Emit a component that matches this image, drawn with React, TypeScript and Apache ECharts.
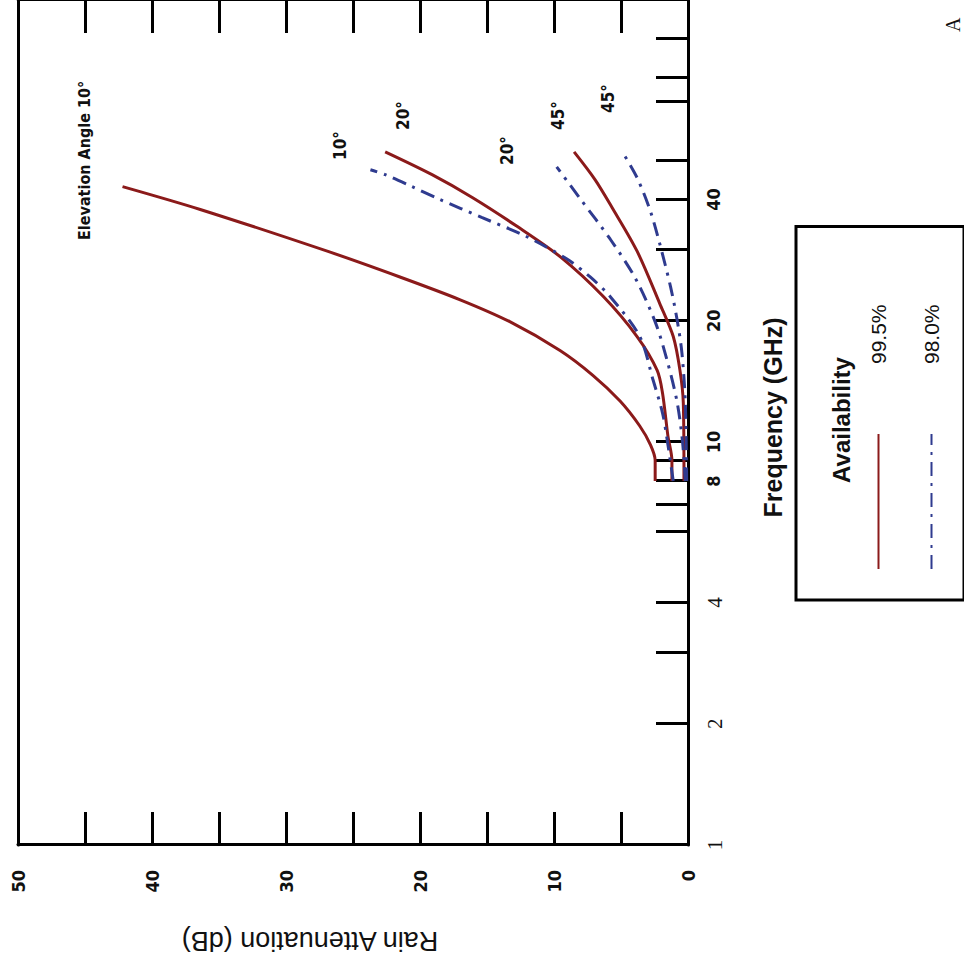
import React, { useEffect, useRef } from "react";
import * as echarts from "echarts";

// Frequency axis (GHz, log) ticks and labels
const freqTickValues = [1, 2, 3, 4, 6, 7, 8, 9, 10, 20, 30, 40, 50, 70, 80, 100];
const freqLabelValues = [1, 2, 4, 8, 10, 20, 40];
// Attenuation axis (dB)
const attenTickStep = 5;
const attenMin = 0;
const attenMax = 50;

// 99.5 % availability curves (frequency GHz, attenuation dB)
const freq995El10 = [8, 9, 9.84, 10.96, 12.64, 14.64, 16.87, 19.89, 22.54, 25.68, 29.59, 37.77, 43.04];
const atten995El10 = [2.45, 2.45, 2.8, 3.6, 5.07, 7.1, 9.55, 13.3, 17.0, 21.5, 26.7, 36.4, 42.2];
const freq995El20 = [8, 9, 10.36, 13.22, 15.06, 18.27, 22.93, 28.76, 34.29, 40.44, 46.07, 52.48];
const atten995El20 = [1.2, 1.2, 1.5, 1.9, 2.3, 3.8, 6.3, 9.5, 12.76, 16.1, 19.1, 22.6];
const freq995El45 = [8, 12.5, 15.06, 18.27, 22.03, 29.76, 38.2, 44.8, 52.48];
const atten995El45 = [0.3, 0.35, 0.6, 1.1, 2.1, 3.8, 5.67, 6.94, 8.5];

// 98.0 % availability curves
const freq980El10 = [8, 10.36, 11.8, 14.23, 18.27, 22.93, 25.68, 28.44, 32.41, 36.09, 39.98, 43.04, 46.07, 47.39];
const atten980El10 = [1.1, 1.6, 1.9, 2.6, 3.6, 5.8, 7.3, 9.03, 12.1, 15.4, 18.5, 20.6, 22.6, 23.7];
const freq980El20 = [8, 9.95, 12.5, 15.67, 19.67, 25.39, 31.86, 39.98, 48.2];
const atten980El20 = [0.2, 0.4, 0.8, 1.5, 2.4, 3.9, 5.8, 8.0, 9.8];
const freq980El45 = [8, 12.5, 16.59, 20.0, 24.26, 30.97, 37.34, 45.29, 52.48];
const atten980El45 = [0.1, 0.2, 0.45, 0.8, 1.3, 2.1, 2.8, 3.8, 4.9];

const availabilityNames = ["99.5%", "98.0%"];
const curveLabelTexts = ["Elevation Angle 10\u00b0", "10\u00b0", "20\u00b0", "20\u00b0", "45\u00b0", "45\u00b0"];

const RED = "#8b1a1a";
const BLUE = "#2f3b8f";
const DASHDOT = [14, 7, 3, 7];
const NARROW = '"Liberation Sans Narrow", "DejaVu Sans Condensed", "Liberation Sans", Arial, sans-serif';
const SANS = '"Liberation Sans", Arial, sans-serif';
const SERIF = '"Liberation Serif", "DejaVu Serif", serif';

function pairs(f: number[], a: number[]) {
  return f.map((v, i) => [v, a[i]]);
}

export default function App() {
  const ref = useRef<HTMLDivElement>(null);

  useEffect(() => {
    if (!ref.current) return;
    const chart = echarts.init(ref.current, null, { renderer: "svg" });

    const curves = [
      { name: availabilityNames[0], data: pairs(freq995El10, atten995El10), color: RED, dash: "solid" as any },
      { name: availabilityNames[0], data: pairs(freq995El20, atten995El20), color: RED, dash: "solid" as any },
      { name: availabilityNames[0], data: pairs(freq995El45, atten995El45), color: RED, dash: "solid" as any },
      { name: availabilityNames[1], data: pairs(freq980El10, atten980El10), color: BLUE, dash: DASHDOT },
      { name: availabilityNames[1], data: pairs(freq980El20, atten980El20), color: BLUE, dash: DASHDOT },
      { name: availabilityNames[1], data: pairs(freq980El45, atten980El45), color: BLUE, dash: DASHDOT },
    ];

    const labelPos = [
      { x: 724, y: 84, size: 16 },
      { x: 804, y: 340, size: 17 },
      { x: 834, y: 403, size: 17 },
      { x: 799, y: 507, size: 17 },
      { x: 834, y: 558, size: 17 },
      { x: 851, y: 608, size: 17 },
    ];

    const option: any = {
      animation: false,
      backgroundColor: "#ffffff",
      grid: { left: 119, top: 18, width: 851, height: 670, containLabel: false },
      xAxis: [
        {
          type: "log",
          logBase: 10,
          min: 1,
          max: 125,
          position: "bottom",
          name: "Frequency (GHz)",
          nameLocation: "middle",
          nameGap: 72,
          nameTextStyle: { fontFamily: SANS, fontSize: 25, fontWeight: "bold", color: "#111", padding: [0, 0, 0, 10] },
          axisLine: { show: true, onZero: false, lineStyle: { color: "#000", width: 3 } },
          axisTick: { show: true, inside: true, length: 32, lineStyle: { color: "#000", width: 3 }, customValues: freqTickValues },
          minorTick: { show: false },
          splitLine: { show: false },
          axisLabel: {
            customValues: freqLabelValues,
            margin: 16,
            formatter: (v: number) => (v <= 4 ? `{s|${v}}` : `{b|${v}}`),
            rich: {
              s: { fontFamily: SERIF, fontSize: 21, color: "#111" },
              b: { fontFamily: NARROW, fontSize: 18, fontWeight: "bold", color: "#111" },
            },
          },
        },
        {
          type: "log",
          logBase: 10,
          min: 1,
          max: 125,
          position: "top",
          axisLine: { show: true, onZero: false, lineStyle: { color: "#000", width: 3 } },
          axisTick: { show: false },
          axisLabel: { show: false },
          splitLine: { show: false },
        },
      ],
      yAxis: [
        {
          type: "value",
          min: attenMin,
          max: attenMax,
          interval: attenTickStep,
          position: "left",
          name: "Rain Attenuation (dB)",
          nameLocation: "middle",
          nameGap: 82,
          nameTextStyle: { fontFamily: SANS, fontSize: 27, color: "#111", padding: [0, 0, 0, 86] },
          axisLine: { show: true, onZero: false, lineStyle: { color: "#000", width: 3 } },
          axisTick: { show: true, inside: true, length: 33, lineStyle: { color: "#000", width: 3 } },
          splitLine: { show: false },
          axisLabel: {
            margin: 25,
            fontFamily: NARROW,
            fontSize: 18,
            fontWeight: "bold",
            color: "#111",
            formatter: (v: number) => (v % 10 === 0 ? String(v) : ""),
          },
        },
        {
          type: "value",
          min: attenMin,
          max: attenMax,
          interval: attenTickStep,
          position: "right",
          axisLine: { show: true, onZero: false, lineStyle: { color: "#000", width: 3 } },
          axisTick: { show: true, inside: true, length: 33, lineStyle: { color: "#000", width: 3 } },
          axisLabel: { show: false },
          splitLine: { show: false },
        },
      ],
      legend: {
        data: availabilityNames,
        orient: "vertical",
        left: 364,
        top: 796,
        padding: [72, 78, 22, 30],
        itemWidth: 135,
        itemHeight: 20,
        itemGap: 32,
        borderColor: "#000",
        borderWidth: 3,
        selectedMode: false,
        itemStyle: { opacity: 0, borderWidth: 0 },
        textStyle: { fontFamily: SANS, fontSize: 21, color: "#111", padding: [0, 0, 0, 65] },
      },
      series: curves.map((c) => ({
        type: "line",
        name: c.name,
        data: c.data,
        xAxisIndex: 0,
        yAxisIndex: 0,
        showSymbol: false,
        symbol: "none",
        smooth: 0.3,
        silent: true,
        color: c.color,
        lineStyle: { color: c.color, width: 3, type: c.dash, cap: "butt" },
        itemStyle: { color: c.color },
      })),
      graphic: [
        {
          type: "text",
          x: 544,
          y: 841,
          style: { text: "Availability", fontFamily: SANS, fontSize: 24, fontWeight: "bold", fill: "#111", textAlign: "center", textVerticalAlign: "middle" },
        },
        ...curveLabelTexts.map((t, i) => ({
          type: "text",
          x: labelPos[i].x,
          y: labelPos[i].y,
          style: { text: t, fontFamily: NARROW, fontSize: labelPos[i].size, fontWeight: "bold", fill: "#111", textAlign: "left", textVerticalAlign: "middle" },
        })),
        {
          type: "text",
          x: 932,
          y: 953,
          style: { text: "A", fontFamily: SERIF, fontSize: 20, fill: "#111", textAlign: "left", textVerticalAlign: "middle" },
        },
      ],
    };

    chart.setOption(option);
    return () => chart.dispose();
  }, []);

  return (
    <div style={{ position: "fixed", left: 0, top: 0, width: 964, height: 963, overflow: "hidden", background: "#fff" }}>
      <div
        ref={ref}
        style={{ position: "absolute", left: 0, top: 0, width: 964, height: 964, transform: "rotate(-90deg)", transformOrigin: "50% 50%" }}
      />
    </div>
  );
}
